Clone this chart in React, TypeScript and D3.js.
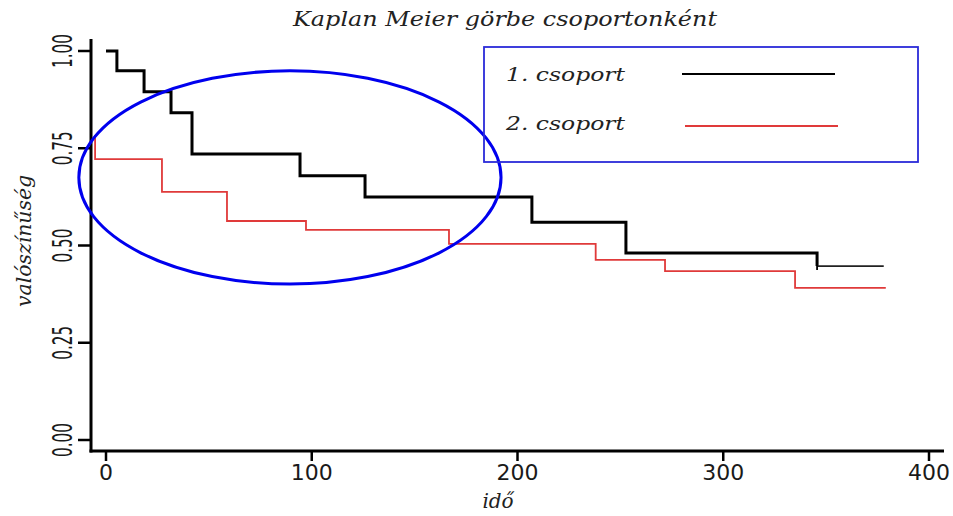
import React from "react";
import * as d3 from "d3";

// Data
const group1Times = [0, 5.3, 18.5, 31.6, 41.8, 94.3, 125.9, 207, 252.7, 345.6, 378];
const group1Surv = [1.0, 0.949, 0.895, 0.841, 0.735, 0.679, 0.625, 0.56, 0.481, 0.447, 0.447];
const group2Times = [-5.3, -5.3, 27.2, 58.8, 97.2, 166.7, 238, 271.7, 334.9, 379];
const group2Surv = [0.784, 0.722, 0.638, 0.563, 0.54, 0.504, 0.463, 0.434, 0.391, 0.391];
const xTicks = [0, 100, 200, 300, 400];
const yTicks = [0, 0.25, 0.5, 0.75, 1.0];
const yTickLabels = ["0.00", "0.25", "0.50", "0.75", "1.00"];
const legendLabels = ["1. csoport", "2. csoport"];
const legendColors = ["#000000", "#e03a3a"];
const titleText = "Kaplan Meier görbe csoportonként";
const xLabel = "idő";
const yLabel = "valószínűség";
// annotation ellipse in data units: center time, center survival, radius time, radius survival
const ellipseSpec = [89.4, 0.675, 102.6, 0.274];

const W = 953;
const H = 516;

export default function App() {
  const x = d3.scaleLinear().domain([0, 400]).range([106, 929]);
  const y = d3.scaleLinear().domain([0, 1]).range([440, 51]);

  const g1 = group1Times.map((t, i) => [t, group1Surv[i]] as [number, number]);
  const g2 = group2Times.map((t, i) => [t, group2Surv[i]] as [number, number]);
  const line = d3
    .line<[number, number]>()
    .x((d) => x(d[0]))
    .y((d) => y(d[1]))
    .curve(d3.curveStepAfter);

  const g1Thick = g1.slice(0, g1.length - 1);
  const g1Thin = g1.slice(g1.length - 2);
  const lastCensorT = group1Times[group1Times.length - 2];

  const [ecx, ecy, erx, ery] = ellipseSpec;
  const axisX = 91;
  const axisY = 451;

  const serif = "'DejaVu Serif', serif";
  const sans = "'DejaVu Sans', sans-serif";

  return (
    <svg
      width={W}
      height={H}
      style={{ position: "absolute", left: 0, top: 0, background: "#fff" }}
    >
      {/* title */}
      <text
        x={505}
        y={26}
        textAnchor="middle"
        fontFamily={serif}
        fontStyle="italic"
        fontSize={21}
        textLength={424}
        lengthAdjust="spacingAndGlyphs"
        fill="#222"
      >
        {titleText}
      </text>

      {/* axes */}
      <line x1={axisX} x2={axisX} y1={39} y2={axisY + 1.5} stroke="#000" strokeWidth={3} />
      <line x1={axisX - 1.5} x2={944} y1={axisY} y2={axisY} stroke="#000" strokeWidth={3} />
      {yTicks.map((v, i) => (
        <g key={"y" + i}>
          <line x1={78} x2={axisX} y1={y(v)} y2={y(v)} stroke="#000" strokeWidth={2.5} />
          <text
            transform={`translate(72,${y(v)}) rotate(-90)`}
            textAnchor="middle"
            fontFamily={sans}
            fontSize={26}
            textLength={34}
            lengthAdjust="spacingAndGlyphs"
            fill="#1a1a1a"
          >
            {yTickLabels[i]}
          </text>
        </g>
      ))}
      {xTicks.map((v, i) => (
        <g key={"x" + i}>
          <line x1={x(v)} x2={x(v)} y1={axisY} y2={461} stroke="#000" strokeWidth={2.5} />
          <text
            x={x(v)}
            y={480}
            textAnchor="middle"
            fontFamily={sans}
            fontSize={22}
            fill="#1a1a1a"
          >
            {String(v)}
          </text>
        </g>
      ))}

      {/* axis labels */}
      <text
        x={498}
        y={508}
        textAnchor="middle"
        fontFamily={serif}
        fontStyle="italic"
        fontSize={20}
        fill="#222"
      >
        {xLabel}
      </text>
      <text
        transform={`translate(31,241) rotate(-90)`}
        textAnchor="middle"
        fontFamily={serif}
        fontStyle="italic"
        fontSize={21}
        textLength={132}
        lengthAdjust="spacingAndGlyphs"
        fill="#222"
      >
        {yLabel}
      </text>

      {/* survival curves */}
      <path d={line(g2) || ""} fill="none" stroke={legendColors[1]} strokeWidth={1.8} />
      <path d={line(g1Thick) || ""} fill="none" stroke="#000" strokeWidth={3} />
      <path d={line(g1Thin) || ""} fill="none" stroke="#222" strokeWidth={1.8} />
      <line
        x1={x(lastCensorT)}
        x2={x(lastCensorT)}
        y1={y(group1Surv[group1Surv.length - 3])}
        y2={y(group1Surv[group1Surv.length - 2]) + 4}
        stroke="#000"
        strokeWidth={1.8}
      />

      {/* annotation ellipse */}
      <ellipse
        cx={x(ecx)}
        cy={y(ecy)}
        rx={x(erx) - x(0)}
        ry={y(0) - y(ery)}
        fill="none"
        stroke="#0000ee"
        strokeWidth={3}
      />

      {/* legend */}
      <rect x={484} y={47} width={434} height={115} fill="none" stroke="#2b2bd9" strokeWidth={1.8} />
      {legendLabels.map((lab, i) => (
        <g key={"l" + i}>
          <text
            x={506}
            y={81 + i * 49}
            fontFamily={serif}
            fontStyle="italic"
            fontSize={19}
            textLength={119}
            lengthAdjust="spacingAndGlyphs"
            fill="#222"
          >
            {lab}
          </text>
          <line
            x1={682 + i * 3}
            x2={835 + i * 3}
            y1={74 + i * 52}
            y2={74 + i * 52}
            stroke={legendColors[i]}
            strokeWidth={1.8}
          />
        </g>
      ))}
    </svg>
  );
}
